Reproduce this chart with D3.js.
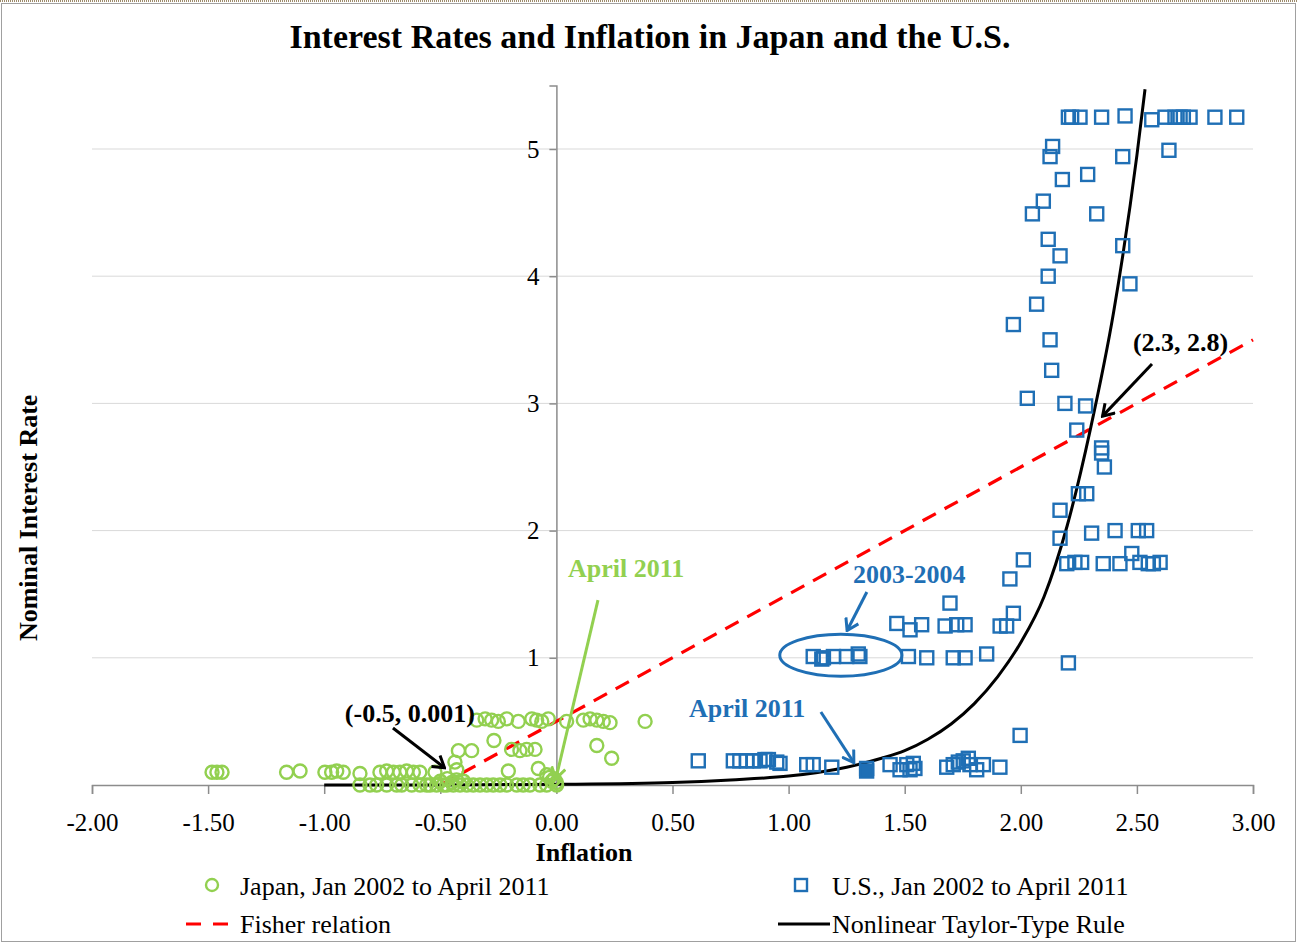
<!DOCTYPE html>
<html>
<head>
<meta charset="utf-8">
<script src="https://cdn.jsdelivr.net/npm/d3@7"></script>
<style>
  html, body { margin: 0; padding: 0; background: #fff; }
  svg { display: block; font-family: "Liberation Serif", "DejaVu Serif", serif; }
</style>
</head>
<body>
<svg></svg>
<script>
// --- data ---
const japanX = [
  -0.343, -0.307, -0.279, -0.250, -0.214, -0.164, -0.106, -0.085, -0.063, -0.035, 0.044, 0.116, 0.145, 0.174, 0.202, 0.231, 0.382,
  -0.269,
  -0.422, -0.365, -0.193, -0.157, -0.128, -0.092,
  0.174, 0.238, -0.437,
  -1.483, -1.462, -1.440, -1.162, -1.104, -0.997, -0.968, -0.946, -0.918, -0.846, -0.760, -0.731, -0.702, -0.674, -0.645, -0.616, -0.588, -0.523, -0.429, -0.207, -0.078, -0.042,
  -0.846, -0.803, -0.774, -0.731, -0.688, -0.666, -0.623, -0.587, -0.559, -0.544, -0.516, -0.487, -0.472, -0.444, -0.415, -0.386, -0.358, -0.329, -0.300, -0.272, -0.243, -0.214, -0.171, -0.143, -0.114, -0.071, -0.042, 0.001,
  -0.500, -0.470, -0.450, -0.430, -0.400, -0.030, -0.010, 0.000, -0.020
]
const japanY = [
  0.51, 0.52, 0.51, 0.50, 0.52, 0.50, 0.52, 0.51, 0.50, 0.52, 0.50, 0.51, 0.52, 0.51, 0.50, 0.49, 0.50,
  0.35,
  0.27, 0.27, 0.28, 0.27, 0.28, 0.28,
  0.31, 0.21, 0.18,
  0.10, 0.10, 0.10, 0.10, 0.11, 0.10, 0.10, 0.11, 0.10, 0.09, 0.10, 0.11, 0.10, 0.10, 0.11, 0.10, 0.10, 0.10, 0.12, 0.11, 0.13, 0.08,
  0.00, 0.00, 0.00, 0.00, 0.00, 0.00, 0.00, 0.00, 0.00, 0.00, 0.00, 0.00, 0.00, 0.00, 0.00, 0.00, 0.00, 0.00, 0.00, 0.00, 0.00, 0.00, 0.00, 0.00, 0.00, 0.00, 0.00, 0.00,
  0.03, 0.05, 0.02, 0.04, 0.03, 0.06, 0.05, 0.02, 0.03
]

const usX = [
  2.205, 2.219, 2.255, 2.348, 2.449, 2.564, 2.621, 2.664, 2.686, 2.700, 2.729, 2.836, 2.930,
  2.137, 2.126, 2.439, 2.638, 2.179, 2.288, 2.097, 2.050, 2.327, 2.118, 2.169, 2.439, 2.118, 2.470, 2.068, 1.968,
  2.126, 2.133, 2.028, 2.190, 2.279, 2.241, 2.348, 2.348, 2.360, 2.248, 2.284,
  2.169, 2.169, 2.305, 2.406, 2.506, 2.542, 2.198, 2.233, 2.262, 2.355, 2.427, 2.478, 2.513, 2.549, 2.571, 2.600,
  2.011, 1.953, 1.695, 1.968, 1.911, 1.939, 1.466, 1.523, 1.573, 1.674, 1.724, 1.760,
  1.106, 1.143, 1.150, 1.193, 1.250, 1.300, 1.307, 1.516, 1.595, 1.709, 1.760, 1.853, 2.205,
  0.611, 0.762, 0.790, 0.819, 0.848, 0.877, 0.898, 0.913, 0.949, 0.963, 1.078, 1.106, 1.186, 1.336, 1.437,
  1.480, 1.509, 1.523, 1.537, 1.544, 1.681, 1.709, 1.731, 1.752, 1.774, 1.781, 1.810, 1.839, 1.910, 1.997
]
const usY = [
  5.25, 5.25, 5.25, 5.25, 5.26, 5.23, 5.25, 5.25, 5.25, 5.25, 5.25, 5.25, 5.25,
  5.02, 4.94, 4.94, 4.99, 4.76, 4.80, 4.59, 4.49, 4.49, 4.29, 4.16, 4.24, 4.00, 3.94, 3.78, 3.62,
  3.50, 3.26, 3.04, 3.00, 2.98, 2.79, 2.65, 2.61, 2.50, 2.29, 2.29,
  2.16, 1.94, 1.98, 2.00, 2.00, 2.00, 1.74, 1.75, 1.75, 1.74, 1.74, 1.82, 1.75, 1.74, 1.74, 1.75,
  1.77, 1.62, 1.43, 1.35, 1.25, 1.25, 1.27, 1.22, 1.26, 1.25, 1.26, 1.26,
  1.01, 0.99, 1.00, 1.01, 1.01, 1.03, 1.01, 1.01, 1.00, 1.00, 1.00, 1.03, 0.96,
  0.19, 0.19, 0.19, 0.19, 0.19, 0.19, 0.20, 0.20, 0.18, 0.17, 0.16, 0.16, 0.14, 0.13, 0.16,
  0.12, 0.16, 0.12, 0.17, 0.13, 0.14, 0.16, 0.18, 0.19, 0.21, 0.16, 0.12, 0.16, 0.14, 0.39
]
// April 2011 U.S. observation (filled square)
const usLatest = [1.336, 0.11]

const fisherX = [-0.5, 3.0]
const fisherY = [0.0, 3.5]

const taylorX = [-1.0, -0.5, 0.0, 0.5, 0.75, 1.0, 1.25, 1.4, 1.5, 1.6, 1.7, 1.8, 1.9, 2.0, 2.1, 2.2, 2.3, 2.4, 2.5, 2.535]
const taylorY = [0.0, 0.0, 0.005, 0.02, 0.04, 0.07, 0.14, 0.21, 0.27, 0.36, 0.48, 0.64, 0.85, 1.12, 1.48, 2.04, 2.8, 3.72, 4.95, 5.47]

const xTicks = [-2, -1.5, -1, -0.5, 0, 0.5, 1, 1.5, 2, 2.5, 3]
const yTicks = [1, 2, 3, 4, 5]

const legendLabels = ['Japan, Jan 2002 to April 2011', 'U.S., Jan 2002 to April 2011', 'Fisher relation', 'Nonlinear Taylor-Type Rule']

const green = '#92d050'
const blue = '#1f6fb5'
const red = '#ff0000'

const width = 1297
const height = 943
const svg = d3.select('svg').attr('width', width).attr('height', height)

const xScale = d3.scaleLinear().domain([-2, 3]).range([92, 1253])
const yScale = d3.scaleLinear().domain([0, 5.5]).range([785, 85.4])

// frame
svg.append('rect')
   .attr('x', 1.5).attr('y', 3.5).attr('width', width - 3).attr('height', height - 5)
   .attr('fill', 'none').attr('stroke', '#a0a0a0').attr('stroke-width', 1)
svg.append('line')
   .attr('x1', 0).attr('x2', width).attr('y1', 1).attr('y2', 1)
   .attr('stroke', '#9c8a6a').attr('stroke-width', 2).attr('stroke-dasharray', '1,1')

// title
svg.append('text')
   .text('Interest Rates and Inflation in Japan and the U.S.')
   .attr('x', 650).attr('y', 48)
   .attr('text-anchor', 'middle')
   .style('font-size', '34px').style('font-weight', 'bold')

// gridlines
svg.append('g')
   .selectAll('line')
   .data(yTicks)
   .join('line')
   .attr('x1', xScale(-2)).attr('x2', xScale(3))
   .attr('y1', d => yScale(d)).attr('y2', d => yScale(d))
   .attr('stroke', '#d9d9d9').attr('stroke-width', 1)

// x axis (plain hyphen for negatives, as in the original)
const fmt2 = d3.format('.2f')
const xAxis = d3.axisBottom(xScale)
                .tickValues(xTicks)
                .tickSize(9)
                .tickPadding(19)
                .tickFormat(d => fmt2(d).replace('\u2212', '-'))
const gx = svg.append('g')
   .attr('id', 'x-axis')
   .attr('transform', `translate(0, ${yScale(0)})`)
   .call(xAxis)
gx.select('.domain').attr('stroke', '#8c8c8c').attr('stroke-width', 1.5)
gx.selectAll('.tick line').attr('stroke', '#8c8c8c').attr('stroke-width', 1.5)
gx.selectAll('.tick text')
  .style('font-family', '"Liberation Serif", serif')
  .style('font-size', '25px').attr('fill', '#000')

// y axis
const yAxis = d3.axisLeft(yScale)
                .tickValues(yTicks)
                .tickSize(7)
                .tickPadding(10)
                .tickFormat(d3.format('d'))
const gy = svg.append('g')
   .attr('id', 'y-axis')
   .attr('transform', `translate(${xScale(0)}, 0)`)
   .call(yAxis)
gy.select('.domain').attr('stroke', '#8c8c8c').attr('stroke-width', 1.5)
gy.selectAll('.tick line').attr('stroke', '#8c8c8c').attr('stroke-width', 1.5)
gy.selectAll('.tick text')
  .style('font-family', '"Liberation Serif", serif')
  .style('font-size', '25px').attr('fill', '#000')

// axis titles
svg.append('text')
   .text('Inflation')
   .attr('x', 584).attr('y', 861)
   .attr('text-anchor', 'middle')
   .style('font-size', '26px').style('font-weight', 'bold')

svg.append('text')
   .text('Nominal Interest Rate')
   .attr('transform', `translate(37, ${yScale(2.1)})rotate(-90)`)
   .attr('text-anchor', 'middle')
   .style('font-size', '26px').style('font-weight', 'bold')

// lines
const fisherLine = d3.line()
                     .x(d => xScale(d[0]))
                     .y(d => yScale(d[1]))
svg.append('path')
   .datum(d3.zip(fisherX, fisherY))
   .attr('d', fisherLine)
   .attr('fill', 'none')
   .attr('stroke', red).attr('stroke-width', 3.2)
   .attr('stroke-dasharray', '15,10')

const taylorLine = d3.line()
                     .x(d => xScale(d[0]))
                     .y(d => yScale(d[1]))
                     .curve(d3.curveMonotoneX)
svg.append('path')
   .datum(d3.zip(taylorX, taylorY))
   .attr('d', taylorLine)
   .attr('fill', 'none')
   .attr('stroke', '#000').attr('stroke-width', 3)

// points
svg.append('g')
   .selectAll('circle')
   .data(d3.zip(japanX, japanY))
   .join('circle')
   .attr('cx', d => xScale(d[0]))
   .attr('cy', d => yScale(d[1]))
   .attr('r', 6.5)
   .attr('fill', 'none')
   .attr('stroke', green).attr('stroke-width', 2.4)

const sq = 13
svg.append('g')
   .selectAll('rect')
   .data(d3.zip(usX, usY))
   .join('rect')
   .attr('x', d => xScale(d[0]) - sq / 2)
   .attr('y', d => yScale(d[1]) - sq / 2)
   .attr('width', sq).attr('height', sq)
   .attr('fill', 'none')
   .attr('stroke', blue).attr('stroke-width', 2.4)

svg.append('rect')
   .attr('x', xScale(usLatest[0]) - sq / 2)
   .attr('y', yScale(usLatest[1]) - sq / 2)
   .attr('width', sq).attr('height', sq)
   .attr('fill', blue)
   .attr('stroke', blue).attr('stroke-width', 2.4)

// annotations
const defs = svg.append('defs')
const addArrowHead = (id, color) => {
  defs.append('marker')
      .attr('id', id)
      .attr('viewBox', '-12 -8 14 16')
      .attr('refX', 0).attr('refY', 0)
      .attr('markerWidth', 14).attr('markerHeight', 16)
      .attr('markerUnits', 'userSpaceOnUse')
      .attr('orient', 'auto')
      .append('path')
      .attr('d', 'M-11,-7 L0,0 L-11,7')
      .attr('fill', 'none')
      .attr('stroke', color).attr('stroke-width', 3)
}
addArrowHead('head-black', '#000')
addArrowHead('head-green', green)
addArrowHead('head-blue', blue)

const annotations = [
  { text: '(2.3, 2.8)', color: '#000', head: 'head-black', tx: 2.483, ty: 3.41, from: [2.565, 3.31], to: [2.352, 2.90] },
  { text: '(-0.5, 0.001)', color: '#000', head: 'head-black', tx: -0.911, ty: 0.495, from: [-0.704, 0.448], to: [-0.482, 0.136] },
  { text: 'April 2011', color: green, head: 'head-green', tx: 0.05, ty: 1.635, from: [0.179, 1.454], to: [-0.002, 0.05] },
  { text: '2003-2004', color: blue, head: 'head-blue', tx: 1.277, ty: 1.588, from: [1.337, 1.517], to: [1.252, 1.215] },
  { text: 'April 2011', color: blue, head: 'head-blue', tx: 0.571, ty: 0.535, from: [1.139, 0.574], to: [1.281, 0.176] }
]

const ann = svg.append('g')
ann.selectAll('line')
   .data(annotations)
   .join('line')
   .attr('x1', d => xScale(d.from[0])).attr('y1', d => yScale(d.from[1]))
   .attr('x2', d => xScale(d.to[0])).attr('y2', d => yScale(d.to[1]))
   .attr('stroke', d => d.color).attr('stroke-width', 3)
   .attr('marker-end', d => `url(#${d.head})`)
ann.selectAll('text')
   .data(annotations)
   .join('text')
   .text(d => d.text)
   .attr('x', d => xScale(d.tx)).attr('y', d => yScale(d.ty))
   .attr('fill', d => d.color)
   .style('font-size', '26px').style('font-weight', 'bold')

// 2003-2004 ellipse
svg.append('ellipse')
   .attr('cx', xScale(1.225)).attr('cy', yScale(1.02))
   .attr('rx', xScale(1.225) - xScale(0.962))
   .attr('ry', yScale(0.855) - yScale(1.02))
   .attr('fill', 'none')
   .attr('stroke', blue).attr('stroke-width', 3)

// legend
const legend = svg.append('g')
const legendRows = [
  { x: 186, y: 886, label: legendLabels[0], kind: 'circle' },
  { x: 778, y: 886, label: legendLabels[1], kind: 'square' },
  { x: 186, y: 924, label: legendLabels[2], kind: 'dash' },
  { x: 778, y: 924, label: legendLabels[3], kind: 'solid' }
]
legendRows.forEach(r => {
  if (r.kind === 'circle') {
    legend.append('circle').attr('cx', r.x + 26).attr('cy', r.y - 1).attr('r', 6)
          .attr('fill', 'none').attr('stroke', green).attr('stroke-width', 2.4)
  } else if (r.kind === 'square') {
    legend.append('rect').attr('x', r.x + 17).attr('y', r.y - 7).attr('width', 12).attr('height', 12)
          .attr('fill', 'none').attr('stroke', blue).attr('stroke-width', 2.4)
  } else if (r.kind === 'dash') {
    legend.append('line').attr('x1', r.x).attr('x2', r.x + 42).attr('y1', r.y).attr('y2', r.y)
          .attr('stroke', red).attr('stroke-width', 3.2).attr('stroke-dasharray', '15,12')
  } else {
    legend.append('line').attr('x1', r.x).attr('x2', r.x + 52).attr('y1', r.y).attr('y2', r.y)
          .attr('stroke', '#000').attr('stroke-width', 3)
  }
  legend.append('text')
        .text(r.label)
        .attr('x', r.x + 54)
        .attr('y', r.y + 9)
        .style('font-size', '26px')
})
</script>
</body>
</html>
